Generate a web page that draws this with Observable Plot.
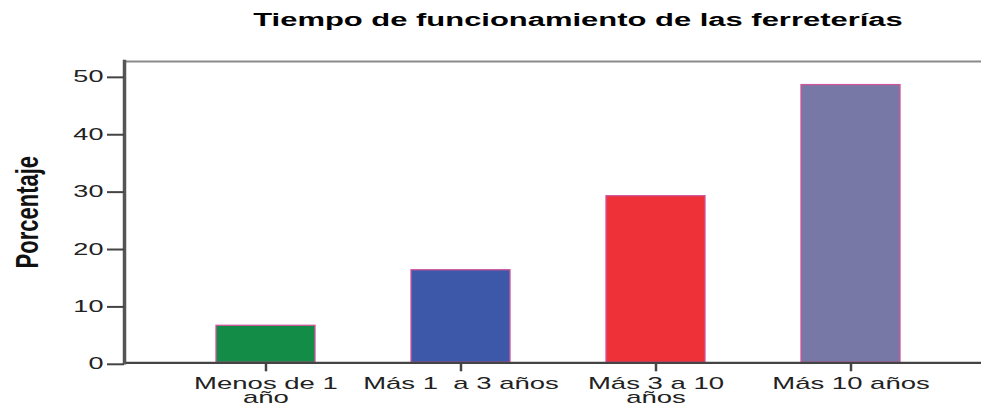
<!DOCTYPE html>
<html><head><meta charset="utf-8">
<script src="https://cdn.jsdelivr.net/npm/d3@7"></script>
<script src="https://cdn.jsdelivr.net/npm/@observablehq/plot@0.6"></script>
<style>body{margin:0;background:#fff;} svg{display:block}</style>
</head><body><div id="chart"></div>
<script>
const title = "Tiempo de funcionamiento de las ferreterías";
const yLabel = "Porcentaje";
const categories = ["Menos de 1\naño", "Más 1  a 3 años", "Más 3 a 10\naños", "Más 10 años"];
const values = [6.45, 16.13, 29.03, 48.39];
const colors = ["#128c47", "#3d58a8", "#ee3139", "#7878a6"];
const yTicks = [0, 10, 20, 30, 40, 50];
const yMax = 52.5;

const data = categories.map((c, i) => ({cat: c, value: values[i]}));
const font = "'Liberation Sans', Arial, sans-serif";

const chart = Plot.plot({
  width: 981, height: 406,
  marginLeft: 124, marginRight: 0, marginTop: 61, marginBottom: 43.7,
  style: {fontFamily: font, background: "#fff", overflow: "visible"},
  x: {type: "band", domain: categories, range: [124, 993], paddingInner: 0.49, paddingOuter: 0.471, align: 0.5},
  y: {domain: [0, yMax]},
  color: {domain: categories, range: colors},
  marks: [
    Plot.barY(data, {x: "cat", y: "value", fill: "cat", stroke: "#d0559a", strokeWidth: 1.3}),
    Plot.ruleY([yMax], {stroke: "#8a8a8a", strokeWidth: 2}),
    Plot.ruleY([0], {stroke: "#444", strokeWidth: 2.2}),
    Plot.frame({anchor: "left", stroke: "#555", strokeWidth: 3.5}),
    Plot.axisY({ticks: yTicks, tickSize: 17, tickPadding: 4, fontSize: 16, stroke: "#444", strokeWidth: 2, fill: "#222", label: null, tickFormat: d => String(d), dy: 1.5}),
    Plot.axisX({tickSize: 9, tickPadding: 7, fontSize: 16, lineHeight: 0.9, stroke: "#444", strokeWidth: 2.5, fill: "#222", label: null}),
    Plot.text([title], {text: d => d, frameAnchor: "top", dx: 25, dy: -36, lineAnchor: "bottom", fontSize: 18, fontWeight: "bold", fill: "#000"}),
    Plot.text([yLabel], {text: d => d, frameAnchor: "left", rotate: -90, dx: -97, fontSize: 22, fontWeight: "bold", fill: "#111", lineAnchor: "middle", textAnchor: "middle"})
  ]
});
document.getElementById("chart").append(chart);

// the reference image is horizontally stretched; reproduce that on the texts
d3.select(chart).selectAll("text").each(function() {
  const t = this.textContent;
  let sx = 1.72, sy = 1;
  if (t === yLabel) { sx = 1; sy = 1.45; }
  if (/^\d+$/.test(t)) sx = 1.69;
  const b = this.getBBox();
  const anchor = getComputedStyle(this).textAnchor;
  const cx = anchor === "end" ? b.x + b.width : anchor === "middle" ? b.x + b.width / 2 : b.x;
  const cy = b.y + b.height / 2;
  const prev = this.getAttribute("transform") || "";
  this.setAttribute("transform", `${prev} translate(${cx},${cy}) scale(${sx},${sy}) translate(${-cx},${-cy})`);
});
</script>
</body></html>
